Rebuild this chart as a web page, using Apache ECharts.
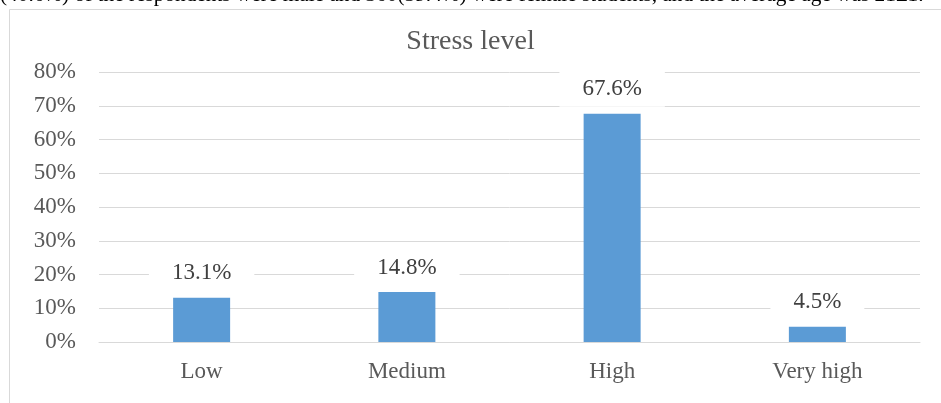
<!DOCTYPE html>
<html>
<head>
<meta charset="utf-8">
<script src="https://cdn.jsdelivr.net/npm/echarts@6/dist/echarts.min.js"></script>
<style>
html,body{margin:0;padding:0;background:#fff;}
#chart{width:941px;height:403px;}
</style>
</head>
<body>
<div id="chart"></div>
<script>
const categories = ['Low', 'Medium', 'High', 'Very high'];
const stressValues = [13.1, 14.8, 67.6, 4.5];
const yTicks = [0, 10, 20, 30, 40, 50, 60, 70, 80];
const chartTitle = 'Stress level';
const aboveText = '(40.6%) of the respondents were male and 360(59.4%) were female students, and the average age was 21±1.';

const serif = '"Liberation Serif", "Times New Roman", serif';
const chart = echarts.init(document.getElementById('chart'));
chart.setOption({
  animation: false,
  backgroundColor: '#fff',
  graphic: [
    { type: 'rect', shape: { x: 9.5, y: 9.5, width: 1000, height: 500 }, style: { fill: 'none', stroke: '#d9d9d9', lineWidth: 1 }, silent: true },
    { type: 'text', left: 0, top: -15, style: { text: aboveText, font: '21.3px ' + serif, fill: '#000' }, silent: true }
  ],
  title: {
    text: chartTitle, left: 'center', top: 23,
    textStyle: { fontFamily: serif, fontSize: 28, fontWeight: 'normal', color: '#595959' }
  },
  grid: { left: 99, right: 21, top: 72, bottom: 61, containLabel: false },
  xAxis: {
    type: 'category', data: categories,
    axisLine: { lineStyle: { color: '#d9d9d9', width: 1 } },
    axisTick: { show: false },
    axisLabel: { fontFamily: serif, fontSize: 23, color: '#595959', margin: 18 }
  },
  yAxis: {
    type: 'value', min: yTicks[0], max: yTicks[yTicks.length - 1], interval: 10,
    axisLine: { show: false }, axisTick: { show: false },
    splitLine: { lineStyle: { color: '#d9d9d9', width: 1 } },
    axisLabel: { fontFamily: serif, fontSize: 23, color: '#595959', margin: 23, formatter: v => v + '%' }
  },
  series: [{
    type: 'bar', data: stressValues, barWidth: 57,
    itemStyle: { color: '#5b9bd5' },
    label: {
      show: true, position: 'top', distance: 7,
      formatter: p => p.value.toFixed(1) + '%',
      fontFamily: serif, fontSize: 23, color: '#404040',
      backgroundColor: '#fff', padding: [6, 23]
    }
  }]
});
</script>
</body>
</html>
